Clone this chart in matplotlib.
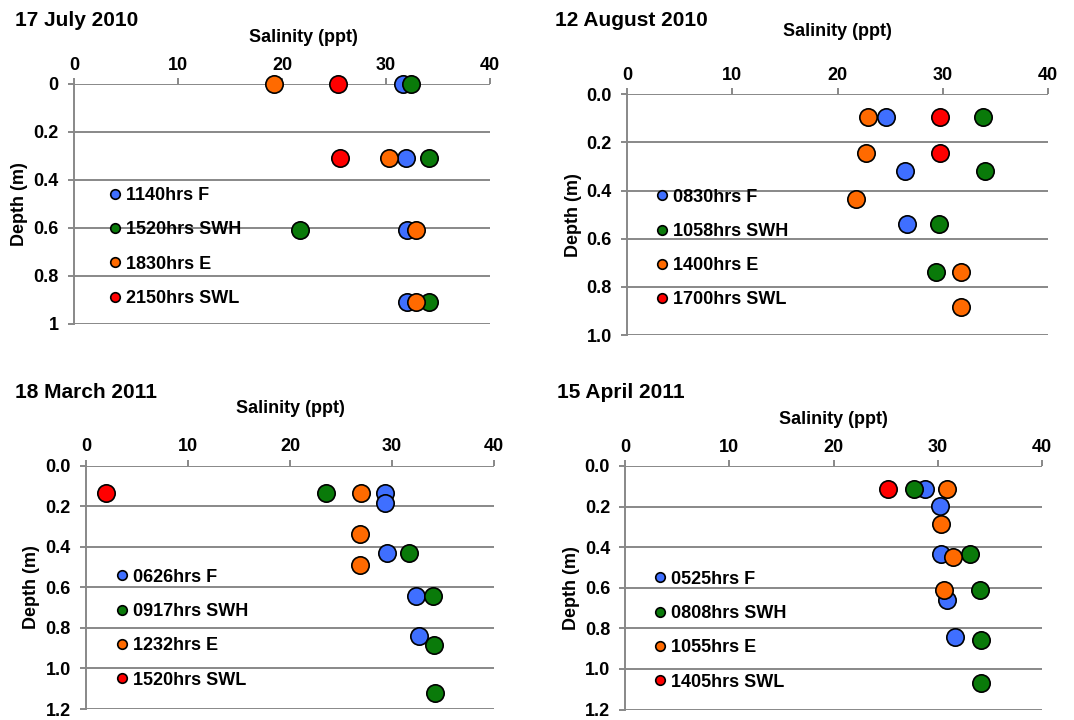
import matplotlib
matplotlib.use("Agg")
import matplotlib.pyplot as plt
import matplotlib.ticker as mticker

plt.rcParams['font.family'] = ['Liberation Sans', 'DejaVu Sans']
plt.rcParams['font.weight'] = 'bold'

# 17 July 2010
JUL_F_DEPTH, JUL_F_SAL = [0, 0.31, 0.61, 0.91], [31.6, 31.9, 32.0, 32.0]
JUL_SWH_DEPTH, JUL_SWH_SAL = [0, 0.31, 0.61, 0.91], [32.4, 34.1, 21.7, 34.1]
JUL_E_DEPTH, JUL_E_SAL = [0, 0.31, 0.61, 0.91], [19.2, 30.3, 32.9, 32.9]
JUL_SWL_DEPTH, JUL_SWL_SAL = [0, 0.31], [25.4, 25.6]
JUL_LABELS = ["1140hrs F", "1520hrs SWH", "1830hrs E", "2150hrs SWL"]

# 12 August 2010
AUG_F_DEPTH, AUG_F_SAL = [0.095, 0.32, 0.54], [24.65, 26.4, 26.6]
AUG_SWH_DEPTH, AUG_SWH_SAL = [0.095, 0.32, 0.54, 0.74], [33.8, 34.05, 29.6, 29.4]
AUG_E_DEPTH, AUG_E_SAL = [0.095, 0.244, 0.437, 0.74, 0.884], [22.9, 22.75, 21.8, 31.7, 31.7]
AUG_SWL_DEPTH, AUG_SWL_SAL = [0.095, 0.244], [29.75, 29.75]
AUG_LABELS = ["0830hrs F", "1058hrs SWH", "1400hrs E", "1700hrs SWL"]

# 18 March 2011
MAR_F_DEPTH, MAR_F_SAL = [0.133, 0.186, 0.43, 0.644, 0.838], [29.3, 29.3, 29.5, 32.35, 32.6]
MAR_SWH_DEPTH, MAR_SWH_SAL = [0.133, 0.43, 0.644, 0.886, 1.123], [23.5, 31.7, 34.05, 34.1, 34.25]
MAR_E_DEPTH, MAR_E_SAL = [0.133, 0.335, 0.49], [27.0, 26.9, 26.9]
MAR_SWL_DEPTH, MAR_SWL_SAL = [0.133], [2.0]
MAR_LABELS = ["0626hrs F", "0917hrs SWH", "1232hrs E", "1520hrs SWL"]

# 15 April 2011
APR_F_DEPTH, APR_F_SAL = [0.111, 0.195, 0.435, 0.658, 0.842], [28.8, 30.25, 30.35, 30.95, 31.7]
APR_SWH_DEPTH, APR_SWH_SAL = [0.111, 0.435, 0.609, 0.858, 1.068], [27.75, 33.1, 34.1, 34.15, 34.15]
APR_E_DEPTH, APR_E_SAL = [0.111, 0.288, 0.45, 0.609], [30.95, 30.3, 31.45, 30.6]
APR_SWL_DEPTH, APR_SWL_SAL = [0.111], [25.2]
APR_LABELS = ["0525hrs F", "0808hrs SWH", "1055hrs E", "1405hrs SWL"]

COLORS = ["#3F6FFF", "#0A7A0A", "#FF6A00", "#FF0000"]
GRAY = "#888888"

W, H = 1074, 720


def px_axes(left, top, right, bottom):
    return [left / W, 1 - bottom / H, (right - left) / W, (bottom - top) / H]


panels = [
    dict(title="17 July 2010", title_xy=(15, 20), rect=px_axes(74, 84, 490, 324),
         series=[(JUL_F_SAL, JUL_F_DEPTH), (JUL_SWH_SAL, JUL_SWH_DEPTH),
                 (JUL_E_SAL, JUL_E_DEPTH), (JUL_SWL_SAL, JUL_SWL_DEPTH)],
         labels=JUL_LABELS, ymax=1.0, fmt="{:g}", xlab=(303, 37), leg=(110, 247)),
    dict(title="12 August 2010", title_xy=(555, 21), rect=px_axes(627, 94.3, 1048, 335),
         series=[(AUG_F_SAL, AUG_F_DEPTH), (AUG_SWH_SAL, AUG_SWH_DEPTH),
                 (AUG_E_SAL, AUG_E_DEPTH), (AUG_SWL_SAL, AUG_SWL_DEPTH)],
         labels=AUG_LABELS, ymax=1.0, fmt="{:.1f}", xlab=(837, 31), leg=(656.7, 248.5)),
    dict(title="18 March 2011", title_xy=(15, 393), rect=px_axes(86, 465.7, 494, 709),
         series=[(MAR_F_SAL, MAR_F_DEPTH), (MAR_SWH_SAL, MAR_SWH_DEPTH),
                 (MAR_E_SAL, MAR_E_DEPTH), (MAR_SWL_SAL, MAR_SWL_DEPTH)],
         labels=MAR_LABELS, ymax=1.2, fmt="{:.1f}", xlab=(290, 408), leg=(117, 628.8)),
    dict(title="15 April 2011", title_xy=(557, 393), rect=px_axes(625.3, 466, 1041.7, 709.5),
         series=[(APR_F_SAL, APR_F_DEPTH), (APR_SWH_SAL, APR_SWH_DEPTH),
                 (APR_E_SAL, APR_E_DEPTH), (APR_SWL_SAL, APR_SWL_DEPTH)],
         labels=APR_LABELS, ymax=1.2, fmt="{:.1f}", xlab=(833.5, 419), leg=(654.3, 630.7)),
]

fig = plt.figure(figsize=(W / 100, H / 100), dpi=100)

for p in panels:
    ax = fig.add_axes(p["rect"])
    left, bottom, width, height = p["rect"]
    for (sal, depth), color, label in zip(p["series"], COLORS, p["labels"]):
        ax.plot(sal, depth, linestyle="none", marker="o", markersize=12.5,
                markerfacecolor=color, markeredgecolor="black", markeredgewidth=1.2,
                label=label, zorder=3, clip_on=False)

    ax.set_xlim(0, 40)
    ax.set_ylim(p["ymax"], 0)
    ax.xaxis.set_major_locator(mticker.MultipleLocator(10))
    ax.yaxis.set_major_locator(mticker.MultipleLocator(0.2))
    fmt = p["fmt"]
    ax.yaxis.set_major_formatter(mticker.FuncFormatter(lambda v, pos, f=fmt: f.format(v)))
    ax.xaxis.tick_top()
    ax.tick_params(axis="both", direction="out", length=4, width=1.4, color=GRAY,
                   labelsize=13)
    ax.tick_params(axis="x", top=True, bottom=False, pad=3.5)
    ax.tick_params(axis="y", pad=7)

    for side in ["top", "right", "bottom"]:
        ax.spines[side].set_visible(False)
    ax.spines["left"].set_color(GRAY)
    ax.spines["left"].set_linewidth(1.4)
    ax.grid(axis="y", color=GRAY, linewidth=1.4)
    ax.set_axisbelow(True)

    # axis titles
    ax.set_xlabel("Salinity (ppt)", fontsize=13, fontweight="bold")
    ax.xaxis.set_label_position("top")
    fig_l = left * W
    fig_b = (1 - bottom) * H
    ax.xaxis.set_label_coords((p["xlab"][0] - fig_l) / (width * W),
                              (fig_b - p["xlab"][1]) / (height * H))
    ax.xaxis.label.set_va("center")
    ax.set_ylabel("Depth (m)", fontsize=13, fontweight="bold")
    ax.yaxis.set_label_coords(-54 / (width * W), 0.5)
    ax.yaxis.label.set_va("center")

    ax.legend(loc="center left",
              bbox_to_anchor=((p["leg"][0] - fig_l) / (width * W),
                              (fig_b - p["leg"][1]) / (height * H)),
              frameon=False, fontsize=13, markerscale=0.55, handlelength=0.6,
              handletextpad=0.3, labelspacing=0.96, borderpad=0, borderaxespad=0)

    fig.text(p["title_xy"][0] / W, 1 - p["title_xy"][1] / H, p["title"],
             fontsize=15, fontweight="bold", ha="left", va="center")

fig.savefig("out.png", dpi=100)
